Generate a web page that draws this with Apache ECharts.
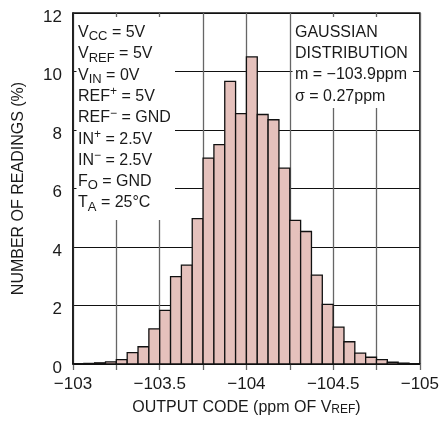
<!DOCTYPE html>
<html><head><meta charset="utf-8">
<script src="https://cdn.jsdelivr.net/npm/echarts@6/dist/echarts.min.js"></script>
<style>html,body{margin:0;padding:0;background:#fff}#c{width:442px;height:421px}</style>
</head><body><div id="c"></div>
<script>
// Histogram bins: start at -103 ppm, each bin 1/16 ppm wide, going toward -105
const binStart = -103;
const binWidth = 0.0625;
const readings = [0, 0.02, 0.04, 0.07, 0.15, 0.39, 0.59, 1.2, 1.83, 2.99, 3.38, 4.97,
  7.04, 7.5, 9.66, 8.56, 10.5, 8.53, 8.35, 6.7, 4.91, 4.53, 3.04, 2.04,
  1.26, 0.76, 0.37, 0.23, 0.15, 0.06, 0.03, 0];
const xTickLabels = [-103, -103.5, -104, -104.5, -105];
const yTicks = [0, 2, 4, 6, 8, 10, 12];
const condLines = ['V{sub|CC} = 5V', 'V{sub|REF} = 5V', 'V{sub|IN} = 0V', 'REF{sup|+} = 5V',
  'REF{sup|\u2212} = GND', 'IN{sup|+} = 2.5V', 'IN{sup|\u2212} = 2.5V', 'F{sub|O} = GND', 'T{sub|A} = 25\u00B0C'];
const statLines = ['GAUSSIAN', 'DISTRIBUTION', 'm = \u2212103.9ppm', '\u03C3 = 0.27ppm'];

const FF = "'Liberation Sans', Arial, sans-serif";
const TXT = '#1a1a1a';
const bins = readings.map((v, i) => [binStart - i * binWidth, binStart - (i + 1) * binWidth, v]);
const fmtNum = v => (v < 0 ? '\u2212' : '') + Math.abs(v);

const chart = echarts.init(document.getElementById('c'), null, {renderer: 'canvas'});
chart.setOption({
  animation: false,
  backgroundColor: '#fff',
  textStyle: {fontFamily: FF},
  grid: {left: 73, right: 17, top: 13, bottom: 57, show: true, borderColor: '#111', borderWidth: 1.5, backgroundColor: 'transparent'},
  xAxis: {
    type: 'value', min: -105, max: -103, interval: 0.25, inverse: true,
    axisLine: {show: true, lineStyle: {color: '#111', width: 1.5}},
    axisTick: {show: true, length: 6, lineStyle: {color: '#666', width: 1.3}},
    splitLine: {show: true, lineStyle: {color: '#666', width: 1.3}},
    axisLabel: {
      fontSize: 17, fontFamily: FF, color: TXT, margin: 12, showMinLabel: true, showMaxLabel: true,
      formatter: v => xTickLabels.some(t => Math.abs(t - v) < 1e-9) ? fmtNum(v) : ''
    },
    name: 'OUTPUT CODE (ppm OF V{s|REF})', nameLocation: 'middle', nameGap: 36,
    nameTextStyle: {fontSize: 16, fontFamily: FF, color: TXT, verticalAlign: 'top',
      rich: {s: {fontSize: 12, fontFamily: FF, color: TXT, lineHeight: 11, verticalAlign: 'bottom'}}}
  },
  yAxis: {
    type: 'value', min: 0, max: 12, interval: 2,
    axisLine: {show: true, lineStyle: {color: '#111', width: 1.5}},
    axisTick: {show: false},
    splitLine: {show: true, lineStyle: {color: '#111', width: 1.2}},
    axisLabel: {fontSize: 17, fontFamily: FF, color: TXT, margin: 11,
      formatter: v => yTicks.includes(v) ? '{d|' + v + '}' : '',
      rich: {d: {fontSize: 17, fontFamily: FF, color: TXT, padding: [8, 0, 0, 0]}}},
    name: 'NUMBER OF READINGS (%)', nameLocation: 'middle', nameGap: 46,
    nameTextStyle: {fontSize: 16, fontFamily: FF, color: TXT}
  },
  series: [{
    type: 'custom',
    data: bins,
    encode: {x: [0, 1], y: 2},
    z: 5,
    renderItem: (params, api) => {
      const a = api.coord([api.value(0), api.value(2)]);
      const b = api.coord([api.value(1), 0]);
      return {type: 'rect',
        shape: {x: Math.min(a[0], b[0]), y: a[1], width: Math.abs(b[0] - a[0]), height: b[1] - a[1]},
        style: {fill: '#e5c1bc', stroke: '#111', lineWidth: 1.3}};
    }
  }],
  graphic: [
    {type: 'rect', z: 50, shape: {x: 76.5, y: 17, width: 98.5, height: 203}, style: {fill: '#fff'}},
    {type: 'rect', z: 50, shape: {x: 292.5, y: 17, width: 120.5, height: 91}, style: {fill: '#fff'}},
    {type: 'text', z: 51, x: 78, y: 22, style: {
      text: condLines.join('\n'), fontSize: 16, fontFamily: FF, fill: TXT, lineHeight: 21.3,
      rich: {
        sub: {fontSize: 13, fontFamily: FF, fill: TXT, lineHeight: 12, verticalAlign: 'bottom'},
        sup: {fontSize: 12, fontFamily: FF, fill: TXT, lineHeight: 12, verticalAlign: 'top'}
      }}},
    {type: 'text', z: 51, x: 295, y: 22, style: {
      text: statLines.join('\n'), fontSize: 16, fontFamily: FF, fill: TXT, lineHeight: 21.2}}
  ]
});
</script></body></html>
